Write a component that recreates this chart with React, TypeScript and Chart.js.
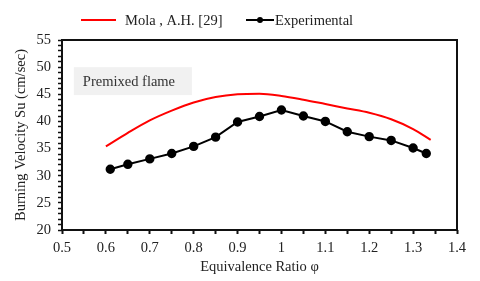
import React, { useEffect, useRef } from "react";
import { Chart, registerables } from "chart.js";

Chart.register(...registerables);

const expPhi = [0.61, 0.65, 0.7, 0.75, 0.8, 0.85, 0.9, 0.95, 1.0, 1.05, 1.1, 1.15, 1.2, 1.25, 1.3, 1.33];
const expSu = [31.2, 32.1, 33.1, 34.1, 35.4, 37.1, 39.9, 40.9, 42.1, 41.0, 40.0, 38.1, 37.2, 36.5, 35.1, 34.1];

const molaPhi = [0.6, 0.65, 0.7, 0.75, 0.8, 0.85, 0.9, 0.95, 1.0, 1.05, 1.1, 1.15, 1.2, 1.25, 1.3, 1.34];
const molaSu = [35.4, 37.9, 40.2, 42.0, 43.5, 44.5, 45.0, 45.1, 44.7, 44.0, 43.2, 42.4, 41.6, 40.4, 38.6, 36.6];

const seriesLabels = ["Mola , A.H. [29]", "Experimental"];
const xTitle = "Equivalence Ratio φ";
const yTitle = "Burning Velocity Su (cm/sec)";
const noteText = "Premixed flame";

const FONT = "'Liberation Serif', 'DejaVu Serif', serif";
const FS = 14.5;

const framePlugin = {
  id: "frame",
  beforeDatasetsDraw(chart: any) {
    const { ctx, scales } = chart;
    const x = scales.x.getPixelForValue(0.527);
    const y = scales.y.getPixelForValue(50.0);
    const x2 = scales.x.getPixelForValue(0.796);
    const y2 = scales.y.getPixelForValue(44.85);
    ctx.save();
    ctx.fillStyle = "#f1f1f1";
    ctx.fillRect(x, y, x2 - x, y2 - y);
    ctx.fillStyle = "#333";
    ctx.font = FS + "px " + FONT;
    ctx.textBaseline = "middle";
    ctx.fillText(noteText, x + 9, (y + y2) / 2 + 1);
    ctx.restore();
  },
  afterDraw(chart: any) {
    const { ctx, chartArea } = chart;
    ctx.save();
    ctx.strokeStyle = "#111";
    ctx.lineWidth = 2;
    ctx.strokeRect(chartArea.left, chartArea.top, chartArea.right - chartArea.left, chartArea.bottom - chartArea.top);
    const ds = chart.data.datasets;
    ctx.font = FS + "px " + FONT;
    ctx.textBaseline = "middle";
    const ly = 20;
    ctx.strokeStyle = ds[0].borderColor;
    ctx.lineWidth = 2;
    ctx.beginPath();
    ctx.moveTo(81, ly);
    ctx.lineTo(116, ly);
    ctx.stroke();
    ctx.fillStyle = "#222";
    ctx.fillText(ds[0].label, 125, ly + 1);
    ctx.strokeStyle = ds[1].borderColor;
    ctx.beginPath();
    ctx.moveTo(246, ly);
    ctx.lineTo(274, ly);
    ctx.stroke();
    ctx.fillStyle = ds[1].pointBackgroundColor;
    ctx.beginPath();
    ctx.arc(260, ly, 3, 0, Math.PI * 2);
    ctx.fill();
    ctx.fillStyle = "#222";
    ctx.fillText(ds[1].label, 275, ly + 1);
    ctx.restore();
  },
};

export default function App() {
  const ref = useRef<HTMLCanvasElement | null>(null);
  useEffect(() => {
    if (!ref.current) return;
    const chart = new Chart(ref.current, {
      type: "line",
      data: {
        datasets: [
          {
            label: seriesLabels[0],
            data: molaPhi.map((p, i) => ({ x: p, y: molaSu[i] })),
            borderColor: "#ff0000",
            borderWidth: 2,
            pointRadius: 0,
            tension: 0.4,
            cubicInterpolationMode: "monotone",
            fill: false,
          },
          {
            label: seriesLabels[1],
            data: expPhi.map((p, i) => ({ x: p, y: expSu[i] })),
            borderColor: "#000000",
            borderWidth: 2,
            pointRadius: 3.7,
            pointBackgroundColor: "#000000",
            pointBorderColor: "#000000",
            tension: 0,
            fill: false,
          },
        ],
      } as any,
      options: {
        animation: false,
        responsive: false,
        maintainAspectRatio: false,
        layout: { padding: { top: 40, right: 23, bottom: 0, left: 0 } },
        plugins: { legend: { display: false }, tooltip: { enabled: false } },
        scales: {
          x: {
            type: "linear",
            min: 0.5,
            max: 1.4,
            afterFit(scale: any) {
              scale.height = 51;
            },
            ticks: {
              stepSize: 0.05,
              autoSkip: false,
              maxRotation: 0,
              padding: 5,
              color: "#222",
              font: { family: FONT, size: FS },
              callback: (v: any) => {
                const n = Math.round(Number(v) * 100);
                return n % 10 === 0 ? String(n / 100) : "";
              },
            },
            grid: { drawOnChartArea: false, tickLength: 4, color: "#111", tickWidth: 2 },
            border: { display: false },
            title: { display: true, text: xTitle, color: "#222", font: { family: FONT, size: FS }, padding: { top: 0, bottom: 5 } },
          },
          y: {
            type: "linear",
            min: 20,
            max: 55,
            afterFit(scale: any) {
              scale.width = 62;
            },
            ticks: {
              stepSize: 1,
              autoSkip: false,
              padding: 7,
              color: "#222",
              font: { family: FONT, size: FS },
              callback: (v: any) => (Number(v) % 5 === 0 ? String(v) : ""),
            },
            grid: { drawOnChartArea: false, tickLength: 4, color: "#111", tickWidth: 1.5 },
            border: { display: false },
            title: { display: true, text: yTitle, color: "#222", font: { family: FONT, size: FS }, padding: { top: 12, bottom: 0 } },
          },
        },
      } as any,
      plugins: [framePlugin],
    });
    return () => chart.destroy();
  }, []);
  return (
    <div style={{ position: "fixed", left: 0, top: 0, width: 480, height: 281, background: "#fff" }}>
      <canvas ref={ref} width={480} height={281} style={{ width: 480, height: 281, display: "block" }} />
    </div>
  );
}
